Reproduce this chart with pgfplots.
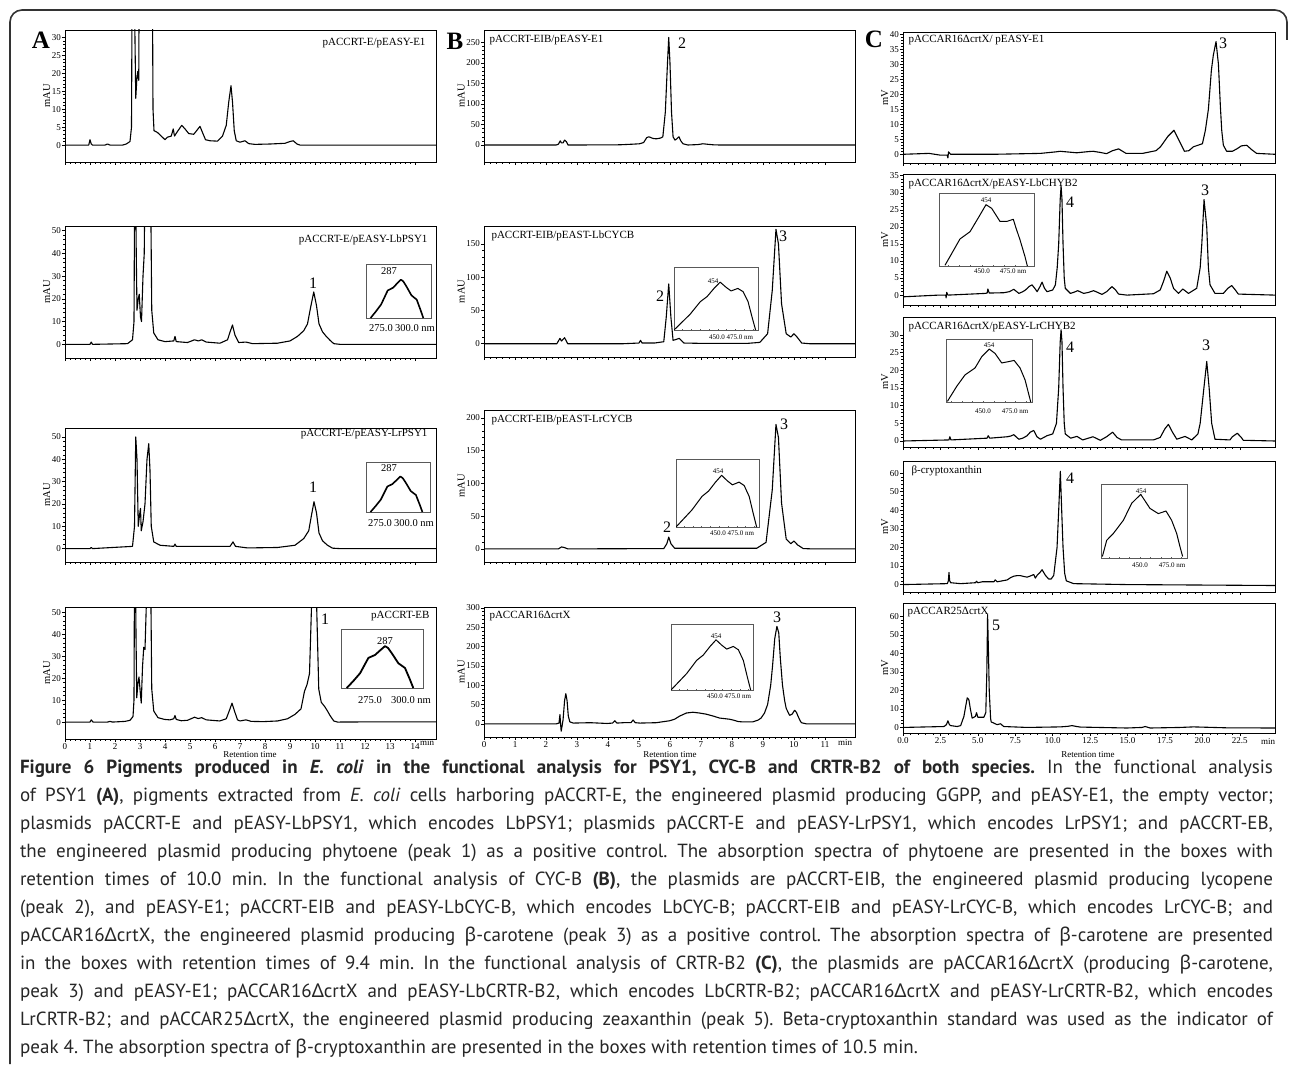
\documentclass[border=0pt]{standalone}
\usepackage{pgfplots}
\pgfplotsset{compat=1.18}
\usepackage{fontspec}
\setmainfont{Liberation Serif}
\newfontfamily\capfont{PT Sans}
\newfontfamily\grk{Noto Sans}
\newcommand\Dl{{\grk Δ}}
\newcommand\bt{{\grk β}}
\pgfplotsset{
  chrom/.style={
    scale only axis, anchor=north west, clip=true,
    axis line style={line width=0.9pt},
    xtick pos=lower, ytick pos=left,
    tick align=outside,
    major tick length=3pt, minor tick length=1.6pt,
    every tick/.style={black, line width=0.5pt},
    minor x tick num=4, minor y tick num=4,
    tick label style={font=\fontsize{9}{10}\selectfont, inner sep=1pt},
    /pgf/number format/assume math mode=true,
    ylabel style={font=\fontsize{10.5}{11}\selectfont, yshift=-3pt},
    xmin=0,
  },
  colA/.style={chrom, width=371pt, xmax=14.84, xtick={0,1,...,14}, ylabel={mAU}},
  colB/.style={chrom, width=371pt, xmax=11.97, xtick={0,1,...,11}, ylabel={mAU}},
  colC/.style={chrom, width=372pt, xmax=24.85, xtick={0,2.5,...,22.5}, ylabel={mV},
     xticklabel style={/pgf/number format/.cd, fixed, fixed zerofill, precision=1}},
  nolab/.style={xticklabels={}},
  trace/.style={black, line width=1.1pt, line join=round, no markers},
  itrace/.style={black, line width=1.0pt, line join=round, no markers},
  inset/.style={scale only axis, anchor=north west, clip=true,
     axis line style={gray!70!black, line width=0.6pt}, ytick=\empty, xtick=\empty, ymin=0, ymax=1},
  insetT/.style={inset, xtick={420,430,...,500}, xticklabels={}, xtick pos=lower, tick align=inside,
     major tick length=1.5pt, every tick/.style={gray!70!black, line width=0.4pt}},
}
\newcommand\ttl{\fontsize{11}{12}\selectfont}
\newcommand\pk{\fontsize{16}{16}\selectfont}
\newcommand\insA{\fontsize{10.5}{11}\selectfont}
\newcommand\insS{\fontsize{7}{8}\selectfont}
\newcommand\capline[2]{\node[anchor=base west, inner sep=0pt, outer sep=0pt] at (20,#1)
  {\hbox to 1253pt{\capfont\fontsize{19}{19}\selectfont\frenchspacing\color{black!85}\spaceskip=0.26em plus 1em minus 0.06em #2}};}
\begin{document}
\begin{tikzpicture}[x=1pt,y=-1pt]
\path[use as bounding box, fill=white] (0,0) rectangle (1290,1065);
\draw[black!80, line width=1.6pt, rounded corners=12pt] (10,1064) -- (10,10) -- (1287,10) -- (1287,40);

% ================= Column A =================
\begin{axis}[colA, nolab, at={(65pt,-30pt)}, height=132pt, ymin=-4.7, ymax=32, ytick={0,5,...,30}]
\addplot[trace] coordinates {(0,0) (0.95,0) (1.0,1.5) (1.05,0.3) (1.1,0) (1.6,0) (1.7,0.3) (1.8,0) (2.3,0) (2.45,0.3) (2.6,1) (2.66,5) (2.72,100) (2.78,40) (2.83,13) (2.87,18) (2.91,20.5) (2.95,18) (3.0,100) (3.2,300) (3.46,100) (3.52,10) (3.56,4) (3.7,3.5) (3.85,2.5) (4.0,1.5) (4.1,2.2) (4.25,2.5) (4.33,4.5) (4.38,2.5) (4.47,3.5) (4.67,5.5) (4.8,4.5) (4.95,3.2) (5.15,3) (5.32,4.5) (5.4,5.2) (5.5,3.5) (5.62,1.5) (5.8,1.2) (6.1,1.1) (6.3,2.5) (6.45,5.5) (6.55,12) (6.64,16.5) (6.7,12) (6.77,4) (6.85,1.2) (7.0,0.8) (7.2,1.2) (7.35,0.4) (7.6,0.2) (8.2,0.3) (8.8,0.5) (9.0,1.0) (9.13,1.2) (9.28,0.3) (9.4,0) (14.84,0)};
\end{axis}
\begin{axis}[colA, nolab, at={(65pt,-226pt)}, height=132pt, ymin=-6, ymax=52, ytick={0,10,...,50}]
\addplot[trace] coordinates {(0,0) (1.0,0) (1.05,1) (1.1,0) (2.5,0.3) (2.7,2) (2.76,10) (2.8,100) (2.85,40) (2.88,15) (2.93,20) (2.97,22) (3.02,12) (3.06,10) (3.12,30) (3.17,40) (3.22,100) (3.3,200) (3.4,100) (3.47,15) (3.55,5) (3.72,2) (4.0,1.2) (4.35,1.5) (4.4,3.5) (4.45,1.2) (4.9,0.8) (5.18,2) (5.33,1.5) (5.47,2) (5.65,1) (6.2,0.5) (6.5,2) (6.62,6) (6.7,8.5) (6.8,4) (6.95,0.8) (7.24,1) (7.5,0.3) (8.5,0.5) (9.0,1.5) (9.3,3.5) (9.55,6) (9.7,9) (9.82,16) (9.95,23) (10.06,17) (10.16,9) (10.3,5.5) (10.45,3.5) (10.6,1.8) (10.75,0.3) (11,0) (14.84,0)};
\end{axis}
\begin{axis}[inset, at={(366pt,-264pt)}, width=65pt, height=54pt, xmin=252.3, xmax=316.4]
\addplot[itrace, line width=1.6pt] coordinates {(256.8,0) (262,0.12) (267.2,0.25) (273.7,0.51) (278.9,0.56) (283,0.64) (286.7,0.71) (289,0.68) (292,0.59) (297.1,0.42) (302.3,0.34) (306.25,0.14) (308.8,0)};
\end{axis}
\begin{axis}[colA, nolab, at={(65pt,-428pt)}, height=134pt, ymin=-6, ymax=54, ytick={0,10,...,50}]
\addplot[trace] coordinates {(0,0) (1.0,0) (1.05,0.5) (1.1,0) (2.7,1) (2.78,10) (2.83,50) (2.88,40) (2.93,10) (2.98,15) (3.02,18) (3.05,8) (3.12,12) (3.2,20) (3.28,40) (3.35,47) (3.4,35) (3.45,10) (3.55,3) (3.8,1.5) (4.35,1) (4.4,2) (4.45,1) (5.2,1) (5.5,1) (6.6,1) (6.72,3) (6.82,1) (7.3,0.3) (8.5,0.5) (9.2,1.5) (9.55,4.5) (9.75,8) (9.86,15) (9.96,21) (10.06,16) (10.16,7) (10.3,3.5) (10.5,1.5) (10.7,0.2) (11,0) (14.84,0)};
\end{axis}
\begin{axis}[inset, at={(366pt,-462pt)}, width=64pt, height=50pt, xmin=252.3, xmax=316.4]
\addplot[itrace, line width=1.6pt] coordinates {(256.8,0) (262,0.12) (267.2,0.25) (273.7,0.51) (278.9,0.56) (283,0.64) (286.7,0.71) (289,0.68) (292,0.59) (297.1,0.42) (302.3,0.34) (306.25,0.14) (308.8,0)};
\end{axis}
\begin{axis}[colA, at={(65pt,-607pt)}, height=132pt, ymin=-7.7, ymax=52.3, ytick={0,10,...,50}]
\addplot[trace] coordinates {(0,0) (1.0,0) (1.05,1) (1.12,0) (1.7,0) (1.8,0.3) (1.9,0) (2.4,0.3) (2.6,0.8) (2.72,2.5) (2.76,10) (2.79,100) (2.84,40) (2.87,11) (2.92,18) (2.96,20.5) (3.0,15) (3.05,8.6) (3.1,25) (3.15,34) (3.2,33) (3.27,60) (3.32,200) (3.4,100) (3.47,15) (3.55,5) (3.72,2) (3.98,1.2) (4.2,1) (4.35,1.5) (4.4,3) (4.45,1.2) (4.65,0.6) (4.9,0.8) (5.18,2.2) (5.33,1.6) (5.47,2) (5.65,1) (6.19,0.5) (6.45,1.5) (6.6,6) (6.68,8.6) (6.78,5) (6.9,1) (7.0,0.5) (7.24,1) (7.45,0.3) (7.94,0.2) (8.5,0.5) (8.9,1.5) (9.2,3.5) (9.44,6) (9.58,14) (9.68,17) (9.78,22) (9.88,60) (10.0,150) (10.05,60) (10.15,15) (10.25,9) (10.39,7) (10.5,5) (10.6,3) (10.75,0.5) (10.9,0) (12.5,0.1) (14.84,0.1)};
\end{axis}
\begin{axis}[inset, at={(341pt,-629pt)}, width=82pt, height=59pt, xmin=252.3, xmax=316.4]
\addplot[itrace, line width=1.8pt] coordinates {(256.8,0) (262,0.12) (267.2,0.25) (273.7,0.51) (278.9,0.56) (283,0.64) (286.7,0.71) (289,0.68) (292,0.59) (297.1,0.42) (302.3,0.34) (306.25,0.14) (308.8,0)};
\end{axis}

% ================= Column B =================
\begin{axis}[colB, nolab, at={(484pt,-30pt)}, height=132pt, ymin=-41.4, ymax=280, ytick={0,50,...,250}]
\addplot[trace] coordinates {(0,0) (2.33,0) (2.4,2) (2.46,10) (2.5,5) (2.55,5) (2.6,12) (2.66,8) (2.71,0) (3.0,0) (4.38,0.5) (4.8,2) (5.02,3) (5.15,6) (5.25,18) (5.32,20) (5.45,16) (5.56,15) (5.7,17) (5.77,20) (5.85,80) (5.92,200) (5.96,262) (6.0,200) (6.05,80) (6.1,20) (6.16,12) (6.22,15) (6.29,20) (6.35,10) (6.42,3) (6.58,0) (6.9,1) (7.06,3) (7.25,1.5) (7.39,0.5) (7.6,0) (11.97,0)};
\end{axis}
\begin{axis}[colB, nolab, at={(484pt,-226pt)}, height=131pt, ymin=-20, ymax=177, ytick={0,50,...,150}]
\addplot[trace] coordinates {(0,0) (2.35,0) (2.45,8) (2.5,4) (2.6,9) (2.7,0) (4.5,0) (5.0,1) (5.05,5) (5.1,1) (5.5,1) (5.8,3) (5.88,40) (5.96,90) (6.03,40) (6.1,5) (6.3,8) (6.45,1) (7.0,0.5) (8.5,0.5) (8.9,2) (9.15,15) (9.3,80) (9.42,172) (9.5,150) (9.6,60) (9.75,15) (9.9,10) (10.0,15) (10.1,10) (10.25,1) (10.5,0) (11.97,0)};
\end{axis}
\begin{axis}[insetT, at={(674pt,-267pt)}, width=84pt, height=63pt, xmin=410.8, xmax=505.3]
\addplot[itrace] coordinates {(410.8,0) (428.9,0.25) (440.4,0.45) (448,0.53) (455.8,0.66) (462.7,0.76) (469.2,0.68) (475,0.62) (482.6,0.66) (488.4,0.61) (494.1,0.45) (498.7,0.2) (502.6,0)};
\end{axis}
\begin{axis}[colB, nolab, at={(484pt,-410pt)}, height=152pt, ymin=-20, ymax=212, ytick={0,50,...,200}]
\addplot[trace] coordinates {(0,0) (2.4,0) (2.5,3) (2.6,2) (2.7,0) (5.8,0.5) (5.9,8) (5.96,18) (6.03,8) (6.15,1) (8.8,1) (9.1,10) (9.3,90) (9.42,190) (9.5,170) (9.6,70) (9.75,15) (9.9,8) (10.0,12) (10.12,6) (10.3,0.5) (10.6,0) (11.97,0)};
\end{axis}
\begin{axis}[insetT, at={(676pt,-459pt)}, width=83pt, height=68pt, xmin=410.8, xmax=505.3]
\addplot[itrace] coordinates {(410.8,0) (428.9,0.25) (440.4,0.45) (448,0.53) (455.8,0.66) (462.7,0.76) (469.2,0.68) (475,0.62) (482.6,0.66) (488.4,0.61) (494.1,0.45) (498.7,0.2) (502.6,0)};
\end{axis}
\begin{axis}[colB, at={(484pt,-607pt)}, height=130pt, ymin=-34, ymax=302, ytick={0,50,...,300}]
\addplot[trace] coordinates {(0,0) (2.33,0) (2.42,2) (2.45,24) (2.47,0) (2.49,-19) (2.52,-5) (2.55,10) (2.6,60) (2.64,78) (2.68,60) (2.72,20) (2.77,5) (2.88,2) (3.43,3) (3.97,1) (4.15,2) (4.22,8) (4.29,2) (4.5,3) (4.74,3) (4.81,10) (4.88,3) (5.03,2) (5.56,3) (5.99,8) (6.15,12) (6.31,20) (6.53,28) (6.74,30) (6.95,28) (7.17,25) (7.4,20) (7.6,15) (7.92,12) (8.03,10) (8.2,6) (8.35,5) (8.67,5) (8.85,10) (8.94,15) (9.05,28) (9.15,50) (9.25,100) (9.31,150) (9.38,220) (9.45,252) (9.51,235) (9.56,170) (9.63,100) (9.7,60) (9.75,40) (9.86,22) (9.94,25) (10.02,35) (10.08,30) (10.13,20) (10.2,8) (10.24,3) (10.4,0) (11.97,0)};
\end{axis}
\begin{axis}[insetT, at={(671pt,-624pt)}, width=82pt, height=66pt, xmin=410.8, xmax=505.3]
\addplot[itrace] coordinates {(410.8,0) (428.9,0.25) (440.4,0.45) (448,0.53) (455.8,0.66) (462.7,0.76) (469.2,0.68) (475,0.62) (482.6,0.66) (488.4,0.61) (494.1,0.45) (498.7,0.2) (502.6,0)};
\end{axis}

% ================= Column C =================
\begin{axis}[colC, nolab, at={(903pt,-32pt)}, height=131pt, ymin=-2.9, ymax=40.7, ytick={0,5,...,40}]
\addplot[trace] coordinates {(0,0) (1.74,0.3) (2.51,-0.3) (2.95,-0.3) (3.0,-1.2) (3.04,0.8) (3.18,0) (6.07,0) (9.18,0.3) (10.2,0.8) (10.5,1) (11.6,0.5) (12.4,0.9) (12.7,1.0) (13.2,0.6) (13.6,0.2) (14.0,1.2) (14.4,1.8) (14.9,0.3) (16.0,0.3) (16.9,1.2) (17.2,2.5) (17.7,6) (18.1,8) (18.5,4) (18.8,1) (19.1,1.2) (19.4,2.5) (20.0,3.5) (20.2,8) (20.4,15) (20.6,28) (20.73,33) (20.91,37.5) (21.07,30) (21.2,16) (21.29,8) (21.4,3) (21.62,1) (22.0,1) (22.3,1.8) (22.6,2.8) (22.96,3) (23.3,1.5) (23.62,0.3) (24.85,0)};
\end{axis}
\begin{axis}[colC, nolab, at={(903pt,-174pt)}, height=131pt, ymin=-2.9, ymax=35.5, ytick={0,5,...,35}]
\addplot[trace] coordinates {(0,-0.5) (2.39,0) (2.85,0) (2.88,-0.8) (2.92,0.8) (3.0,0) (5.5,0.5) (5.62,0.6) (5.67,1.8) (5.76,0.6) (6.73,0.7) (7.1,1) (7.4,1.7) (7.74,0.5) (8.0,1.0) (8.18,1.5) (8.45,2.6) (8.62,3.0) (8.8,2) (8.96,1.0) (9.15,2.5) (9.29,3.8) (9.45,2) (9.62,1) (10.0,1.5) (10.18,3) (10.3,8) (10.4,15) (10.5,28) (10.56,32) (10.62,28) (10.69,15) (10.77,5) (10.84,2) (11.18,0.5) (11.4,0.8) (11.67,1.3) (12.07,0.5) (12.4,0.8) (12.73,1.3) (13.0,0.8) (13.29,0.2) (13.6,1) (13.96,2.5) (14.2,1.5) (14.4,0.3) (14.96,0) (16.73,0.4) (17.18,1.5) (17.4,4) (17.62,7) (17.85,5) (18.07,2) (18.4,0.5) (18.69,1.8) (19.07,0.5) (19.62,2) (19.85,8) (19.96,15) (20.11,28) (20.29,20) (20.4,8) (20.51,3) (20.84,0.5) (21.4,0.5) (21.7,2) (21.96,2.8) (22.2,1.5) (22.4,0.3) (24.85,0)};
\end{axis}
\begin{axis}[insetT, at={(939pt,-193pt)}, width=95pt, height=73pt, xmin=412.3, xmax=496.2]
\addplot[itrace] coordinates {(417.6,0.01) (423.5,0.17) (430.8,0.37) (439.7,0.47) (447.0,0.66) (453.8,0.84) (458.8,0.79) (466.2,0.61) (472.1,0.61) (477.9,0.64) (480.3,0.52) (483.8,0.36) (488.2,0.13) (490.3,0)};
\end{axis}
\begin{axis}[colC, nolab, at={(903pt,-317pt)}, height=130pt, ymin=-1.7, ymax=35.1, ytick={0,5,...,30}]
\addplot[trace] coordinates {(0,0) (3.07,0.3) (3.13,1.2) (3.2,0.3) (5.62,0.8) (5.69,1.5) (5.8,0.8) (6.96,1.2) (7.2,1.4) (7.4,1.8) (7.6,1) (7.74,0.5) (8.0,0.8) (8.29,1.5) (8.5,2.5) (8.73,3) (8.95,1.2) (9.18,0.5) (9.62,1.5) (10.0,2) (10.25,5) (10.4,15) (10.5,28) (10.56,31.5) (10.62,28) (10.69,15) (10.77,5) (10.84,2) (11.2,0.8) (11.62,1.3) (12.0,0.3) (12.69,1.2) (13.18,0.2) (13.6,1.2) (14.0,2.5) (14.3,1) (14.6,0.3) (16.73,0.3) (17.18,1) (17.5,3.5) (17.73,4.7) (18.0,2.5) (18.29,0.5) (18.84,1.3) (19.29,0.3) (19.7,2) (19.85,5) (20.1,15) (20.29,22.5) (20.45,15) (20.62,5) (20.84,0.5) (21.84,0.3) (22.0,1.2) (22.33,2.2) (22.6,1) (22.73,0.2) (24.85,0)};
\end{axis}
\begin{axis}[insetT, at={(946pt,-339pt)}, width=86pt, height=63pt, xmin=415, xmax=495.6]
\addplot[itrace] coordinates {(416.3,0.01) (425.1,0.25) (432.8,0.43) (442.2,0.54) (448.5,0.72) (455.6,0.84) (461,0.77) (467.2,0.62) (473.4,0.64) (478.8,0.66) (484.4,0.54) (489.1,0.35) (494.4,0)};
\end{axis}
\begin{axis}[colC, nolab, at={(903pt,-461pt)}, height=131pt, ymin=-4, ymax=66.5, ytick={0,10,...,60}]
\addplot[trace] coordinates {(0,0) (2.96,0.5) (3.03,2) (3.07,6.5) (3.12,2) (3.18,1) (3.85,0.5) (4.84,1) (4.91,1.8) (5.0,1) (5.29,1.5) (6.07,1.5) (6.16,2.5) (6.29,1.5) (6.96,2.5) (7.2,3.8) (7.4,4.5) (7.6,4.8) (7.85,4.8) (8.1,4.3) (8.29,4) (8.5,4.6) (8.73,5.4) (8.84,3.5) (8.96,5) (9.15,6.5) (9.29,8) (9.51,5) (9.73,3) (9.9,3) (10.07,5) (10.29,20) (10.4,40) (10.51,61) (10.6,40) (10.69,20) (10.8,6) (10.91,2) (11.4,0.5) (14.96,0) (24.85,-0.5)};
\end{axis}
\begin{axis}[insetT, at={(1101pt,-484pt)}, width=86pt, height=74pt, xmin=412.5, xmax=495.2]
\addplot[itrace] coordinates {(413.8,0.02) (418,0.24) (424.3,0.33) (434,0.51) (442,0.74) (450.7,0.86) (459.6,0.67) (467.6,0.6) (475,0.635) (480.4,0.51) (485.3,0.33) (488.5,0.15) (491,0.02)};
\end{axis}
\begin{axis}[colC, at={(903pt,-603pt)}, height=130pt, ymin=-3, ymax=67.2, ytick={0,10,...,60}]
\addplot[trace] coordinates {(0,0) (2.74,0.5) (2.9,1.5) (3.0,3.6) (3.1,1.5) (3.18,1) (3.62,0.5) (3.85,1) (4.07,6) (4.2,12) (4.29,16) (4.4,15) (4.5,10) (4.62,5) (4.84,6) (4.91,8) (5.0,5.5) (5.4,5.5) (5.53,8) (5.6,30) (5.65,61) (5.71,40) (5.76,20) (5.85,5) (5.89,3) (6.29,1.5) (6.51,2) (6.73,0.5) (8.29,0) (10.51,0.3) (11.0,0.6) (11.29,1) (11.6,0.5) (11.85,0.2) (14.96,-0.3) (15.96,0) (16.18,0.5) (16.51,-0.3) (18.5,0) (19.4,0.3) (21.62,-0.2) (24.85,-0.3)};
\end{axis}

% ================= Texts =================
\node[font=\bfseries\fontsize{25}{25}\selectfont] at (41,40) {A};
\node[font=\bfseries\fontsize{25}{25}\selectfont] at (455,41) {B};
\node[font=\bfseries\fontsize{25}{25}\selectfont] at (874,39) {C};

\node[anchor=east, font=\ttl] at (429,43) {pACCRT-E/pEASY-E1};
\node[anchor=east, font=\ttl] at (431,240) {pACCRT-E/pEASY-LbPSY1};
\node[anchor=east, font=\ttl] at (431,434) {pACCRT-E/pEASY-LrPSY1};
\node[anchor=east, font=\ttl] at (433,616) {pACCRT-EB};
\node[font=\pk] at (313,283) {1};
\node[font=\pk] at (313,487) {1};
\node[font=\pk] at (325,619) {1};

\node[anchor=west, font=\ttl] at (486,40) {pACCRT-EIB/pEASY-E1};
\node[anchor=west, font=\ttl] at (488,236) {pACCRT-EIB/pEAST-LbCYCB};
\node[anchor=west, font=\ttl] at (488,420) {pACCRT-EIB/pEAST-LrCYCB};
\node[anchor=west, font=\ttl] at (486,616) {pACCAR16ΔcrtX};
\node[font=\pk] at (682,43) {2};
\node[font=\pk] at (660,296) {2};
\node[font=\pk] at (783,236) {3};
\node[font=\pk] at (667,527) {2};
\node[font=\pk] at (784,424) {3};
\node[font=\pk] at (777,617) {3};

\node[anchor=west, font=\ttl] at (905,40) {pACCAR16ΔcrtX/ pEASY-E1};
\node[anchor=west, font=\ttl] at (905,184) {pACCAR16ΔcrtX/pEASY-LbCHYB2};
\node[anchor=west, font=\ttl] at (905,327) {pACCAR16ΔcrtX/pEASY-LrCHYB2};
\node[anchor=west, font=\ttl] at (908,471) {β-cryptoxanthin};
\node[anchor=west, font=\ttl] at (904,612) {pACCAR25ΔcrtX};
\node[font=\pk] at (1223,43) {3};
\node[font=\pk] at (1070,202) {4};
\node[font=\pk] at (1205,190) {3};
\node[font=\pk] at (1070,347) {4};
\node[font=\pk] at (1206,345) {3};
\node[font=\pk] at (1070,478) {4};
\node[font=\pk] at (996,625) {5};

% inset labels
\node[font=\insA] at (389,271) {287};
\node[font=\insA] at (381,328) {275.0};
\node[font=\insA] at (415,328) {300.0 nm};
\node[font=\insA] at (389,468) {287};
\node[font=\insA] at (380,523) {275.0};
\node[font=\insA] at (414,523) {300.0 nm};
\node[font=\insA] at (385,641) {287};
\node[font=\insA] at (370,700) {275.0};
\node[font=\insA] at (411,700) {300.0 nm};

\node[font=\insS] at (713,281) {454};
\node[font=\insS] at (731,337) {450.0 475.0 nm};
\node[font=\insS] at (718,471) {454};
\node[font=\insS] at (732,533) {450.0 475.0 nm};
\node[font=\insS] at (716,636) {454};
\node[font=\insS] at (729,696) {450.0 475.0 nm};

\node[font=\insS] at (986,200) {454};
\node[font=\insS] at (982,271) {450.0};
\node[font=\insS] at (1013,271) {475.0 nm};
\node[font=\insS] at (989,345) {454};
\node[font=\insS] at (983,411) {450.0};
\node[font=\insS] at (1015,411) {475.0 nm};
\node[font=\insS] at (1141,491) {454};
\node[font=\insS] at (1140,565) {450.0};
\node[font=\insS] at (1172,565) {475.0 nm};

% min labels and retention time
\node[font=\fontsize{9}{10}\selectfont] at (427,743) {min};
\node[font=\fontsize{9}{10}\selectfont] at (845,743) {min};
\node[font=\fontsize{9}{10}\selectfont] at (1268,742) {min};
\begin{scope}
\clip (0,751.5) rectangle (1290,758);
\node[font=\fontsize{9}{10}\selectfont, anchor=north, inner sep=0pt] at (250,751.5) {Retention time};
\node[font=\fontsize{9}{10}\selectfont, anchor=north, inner sep=0pt] at (670,751.5) {Retention time};
\node[font=\fontsize{9}{10}\selectfont, anchor=north, inner sep=0pt] at (1088,751.5) {Retention time};
\end{scope}

% ================= Caption =================
\capline{773}{{\bfseries Figure 6 Pigments produced in \textit{E. coli} in the functional analysis for PSY1, CYC-B and CRTR-B2 of both species.} In the functional analysis}
\capline{801}{of PSY1 \textbf{(A)}, pigments extracted from \textit{E. coli} cells harboring pACCRT-E, the engineered plasmid producing GGPP, and pEASY-E1, the empty vector;}
\capline{829}{plasmids pACCRT-E and pEASY-LbPSY1, which encodes LbPSY1; plasmids pACCRT-E and pEASY-LrPSY1, which encodes LrPSY1; and pACCRT-EB,}
\capline{857}{the engineered plasmid producing phytoene (peak 1) as a positive control. The absorption spectra of phytoene are presented in the boxes with}
\capline{885}{retention times of 10.0 min. In the functional analysis of CYC-B \textbf{(B)}, the plasmids are pACCRT-EIB, the engineered plasmid producing lycopene}
\capline{913}{(peak 2), and pEASY-E1; pACCRT-EIB and pEASY-LbCYC-B, which encodes LbCYC-B; pACCRT-EIB and pEASY-LrCYC-B, which encodes LrCYC-B; and}
\capline{941}{pACCAR16\Dl crtX, the engineered plasmid producing \bt-carotene (peak 3) as a positive control. The absorption spectra of \bt-carotene are presented}
\capline{969}{in the boxes with retention times of 9.4 min. In the functional analysis of CRTR-B2 \textbf{(C)}, the plasmids are pACCAR16\Dl crtX (producing \bt-carotene,}
\capline{997}{peak 3) and pEASY-E1; pACCAR16\Dl crtX and pEASY-LbCRTR-B2, which encodes LbCRTR-B2; pACCAR16\Dl crtX and pEASY-LrCRTR-B2, which encodes}
\capline{1025}{LrCRTR-B2; and pACCAR25\Dl crtX, the engineered plasmid producing zeaxanthin (peak 5). Beta-cryptoxanthin standard was used as the indicator of}
\node[anchor=base west, inner sep=0pt] at (20,1053) {\capfont\fontsize{19}{19}\selectfont\frenchspacing\color{black!85}peak 4. The absorption spectra of \bt-cryptoxanthin are presented in the boxes with retention times of 10.5 min.};
\end{tikzpicture}
\end{document}
